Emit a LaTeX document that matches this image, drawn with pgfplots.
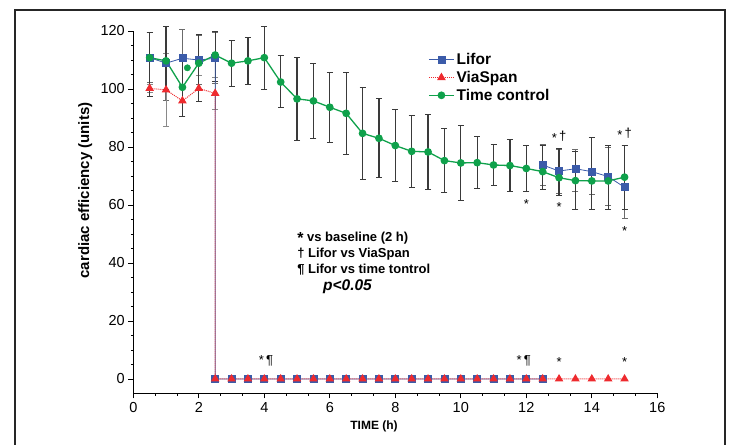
\documentclass[border=0pt]{standalone}
\usepackage{fontspec}
\setmainfont{Liberation Sans}
\usepackage{pgfplots}
\pgfplotsset{compat=1.18}
\usetikzlibrary{calc}

\definecolor{liforblue}{HTML}{3B5BA9}
\definecolor{viared}{HTML}{EE2A2E}
\definecolor{tcgreen}{HTML}{0FA14B}
\definecolor{ebar}{HTML}{3A3A3A}

\begin{document}
\begin{tikzpicture}
\begin{axis}[
    scale only axis,
    width=524pt, height=362.5pt,
    xmin=0, xmax=16, ymin=-5, ymax=120,
    axis x line*=bottom, axis y line*=left,
    axis line style={line width=1pt, black},
    xtick={0,2,...,16}, ytick={0,20,...,120},
    minor x tick num=2, minor y tick num=3,
    tick align=outside,
    major tick length=5pt, minor tick length=2.5pt,
    tick style={black, line width=0.8pt},
    /pgf/number format/assume math mode=true,
    tick label style={font=\fontsize{14.5}{16}\selectfont},
    clip=false,
    legend style={at={(axis cs:9.0,113)}, anchor=north west, draw=none, fill=none,
        font=\bfseries\fontsize{15.5}{18}\selectfont, inner sep=0pt, row sep=1pt},
    legend cell align=left,
    legend image code/.code={\draw[mark repeat=2,mark phase=2] plot coordinates {(0cm,0cm) (0.44cm,0cm) (0.88cm,0cm)};},
]
% error bars, drawn first so the markers sit on top
\addplot[forget plot, only marks, mark=none, ebar!75,
    error bars/.cd, y dir=both, y explicit,
    error bar style={line width=1.2pt},
    error mark options={rotate=90, mark size=3pt, line width=0.9pt}]
coordinates {
(0.5,110.8) +- (0,8.7) (1.0,108.9) +- (0,12.8) (1.5,110.6) +- (0,10) (2.0,110.0) +- (0,8.5) (2.5,110.6) +- (0,8.8)
(12.5,73.8) +- (0,7) (13.0,71.7) +- (0,7.6) (13.5,72.5) += (0,6.8) -= (0,8) (14.0,71.5) += (0,11.8) -= (0,8)
(14.5,69.8) +- (0,10) (15.0,66.1) += (0,14.6) -= (0,10.7)
};
\addplot[forget plot, only marks, mark=none, ebar!60,
    error bars/.cd, y dir=both, y explicit,
    error bar style={line width=1pt},
    error mark options={rotate=90, mark size=3pt, line width=0.9pt}]
coordinates {
(0.5,100.2) +- (0,1.5) (1.0,99.7) +- (0,12.5) (1.5,95.9) +- (0,5.5) (2.0,100.2) +- (0,4.5) (2.5,98.5) +- (0,5.5)
};
\addplot[forget plot, only marks, mark=none, ebar,
    error bars/.cd, y dir=both, y explicit,
    error bar style={line width=1.2pt},
    error mark options={rotate=90, mark size=3pt, line width=0.9pt}]
coordinates {
(0.5,110.8) += (0,8.7) -= (0,13.2) (1.0,109.7) += (0,12) -= (0,10) (1.5,100.6) += (0,10) -= (0,10.2)
(2.0,108.9) += (0,9.9) -= (0,13.3) (2.5,111.7) += (0,8) -= (0,9) (3.0,108.9) +- (0,8)
(3.5,109.7) +- (0,8) (4.0,110.8) += (0,10.9) -= (0,11.1) (4.5,102.4) += (0,9.3) -= (0,8.7)
(5.0,96.6) +- (0,14.2) (5.5,95.9) +- (0,13) (6.0,93.7) +- (0,12) (6.5,91.6) +- (0,14)
(7.0,84.7) +- (0,16) (7.5,83.0) +- (0,13.6) (8.0,80.5) +- (0,12.5) (8.5,78.5) +- (0,12.5)
(9.0,78.3) +- (0,13) (9.5,75.3) +- (0,11) (10.0,74.5) +- (0,13) (10.5,74.6) +- (0,9)
(11.0,73.8) +- (0,7) (11.5,73.6) +- (0,9.1) (12.0,72.6) +- (0,8.1) (12.5,71.5) += (0,9.2) -= (0,6.1)
(13.0,69.4) += (0,10) -= (0,6.2) (13.5,68.4) +- (0,10) (14.0,68.3) += (0,15) -= (0,9.8)
(14.5,68.3) += (0,12.4) -= (0,9.8) (15.0,69.6) +- (0,11)
};

% Lifor
\addplot[liforblue, line width=0.8pt, mark=square*, mark size=3.5pt] coordinates {
(0.5,110.8) (1.0,108.9) (1.5,110.6) (2.0,110.0) (2.5,110.6)
(2.5,0) (3.0,0) (3.5,0) (4.0,0) (4.5,0) (5.0,0) (5.5,0) (6.0,0) (6.5,0) (7.0,0) (7.5,0)
(8.0,0) (8.5,0) (9.0,0) (9.5,0) (10.0,0) (10.5,0) (11.0,0) (11.5,0) (12.0,0) (12.5,0)
};
\addlegendentry{Lifor}
% ViaSpan
\addplot[viared, line width=1pt, densely dotted, mark=triangle*, mark size=4pt, mark options={solid}] coordinates {
(0.5,100.2) (1.0,99.7) (1.5,95.9) (2.0,100.2) (2.5,98.5)
(2.5,0) (3.0,0) (3.5,0) (4.0,0) (4.5,0) (5.0,0) (5.5,0) (6.0,0) (6.5,0) (7.0,0) (7.5,0)
(8.0,0) (8.5,0) (9.0,0) (9.5,0) (10.0,0) (10.5,0) (11.0,0) (11.5,0) (12.0,0) (12.5,0)
(13.0,0) (13.5,0) (14.0,0) (14.5,0) (15.0,0)
};
\addlegendentry{ViaSpan}
% Lifor after reperfusion
\addplot[forget plot, liforblue, line width=0.8pt, mark=square*, mark size=3.5pt] coordinates {
(12.5,73.8) (13.0,71.7) (13.5,72.5) (14.0,71.5) (14.5,69.8) (15.0,66.1)
};
% Time control
\addplot[tcgreen, line width=1.3pt, mark=*, mark size=3.2pt] coordinates {
(0.5,110.8) (1.0,109.7) (1.5,100.6) (2.0,108.9) (2.5,111.7) (3.0,108.9) (3.5,109.7) (4.0,110.8)
(4.5,102.4) (5.0,96.6) (5.5,95.9) (6.0,93.7) (6.5,91.6) (7.0,84.7) (7.5,83.0) (8.0,80.5)
(8.5,78.5) (9.0,78.3) (9.5,75.3) (10.0,74.5) (10.5,74.6) (11.0,73.8) (11.5,73.6) (12.0,72.6)
(12.5,71.5) (13.0,69.4) (13.5,68.4) (14.0,68.3) (14.5,68.3) (15.0,69.6)
};
\addlegendentry{Time control}
\addplot[forget plot, only marks, tcgreen, mark=*, mark size=3.2pt] coordinates {(1.65,107.3)};

% significance marks
\node[font=\fontsize{13}{14}\selectfont] at (axis cs:13.0,83.5) {*\,\raisebox{2pt}{†}};
\node[font=\fontsize{13}{14}\selectfont] at (axis cs:15.0,84.5) {*\,\raisebox{2pt}{†}};
\node[font=\fontsize{13}{14}\selectfont] at (axis cs:12.0,60.2) {*};
\node[font=\fontsize{13}{14}\selectfont] at (axis cs:13.0,59.2) {*};
\node[font=\fontsize{13}{14}\selectfont] at (axis cs:15.0,51.0) {*};
\node[font=\fontsize{13}{14}\selectfont] at (axis cs:4.05,6.3) {*\,¶};
\node[font=\fontsize{13}{14}\selectfont] at (axis cs:11.92,6.3) {*\,¶};
\node[font=\fontsize{13}{14}\selectfont] at (axis cs:13.0,5.8) {*};
\node[font=\fontsize{13}{14}\selectfont] at (axis cs:15.0,5.8) {*};

% key to the symbols
\node[anchor=west, inner sep=0pt, font=\bfseries\fontsize{13}{14}\selectfont] at (axis cs:5.0,48.5) {{\fontsize{16}{16}\selectfont\raisebox{-1pt}{*}} vs baseline (2 h)};
\node[anchor=west, inner sep=0pt, font=\bfseries\fontsize{13}{14}\selectfont] at (axis cs:5.0,43.0) {† Lifor vs ViaSpan};
\node[anchor=west, inner sep=0pt, font=\bfseries\fontsize{13}{14}\selectfont] at (axis cs:5.0,37.6) {¶ Lifor vs time tontrol};
\node[anchor=west, inner sep=0pt, font=\bfseries\itshape\fontsize{15.5}{16}\selectfont] at (axis cs:5.79,31.8) {p<0.05};

% axis titles
\node[rotate=90, font=\bfseries\fontsize{15}{16}\selectfont] at ($(current axis.south west)+(-48pt,203pt)$) {cardiac efficiency (units)};
\node[font=\bfseries\fontsize{12}{13}\selectfont] at (axis cs:7.35,-16.5) {TIME (h)};
\end{axis}
\draw[line width=1.2pt, black!85]
    ($(current axis.south west)+(-118.3pt,-51.5pt)$) -- ($(current axis.north west)+(-118.3pt,21pt)$)
    -- ($(current axis.north east)+(67.7pt,21pt)$) -- ($(current axis.south east)+(67.7pt,-51.5pt)$);
\path[use as bounding box] ($(current axis.south west)+(-133.3pt,-51.5pt)$) rectangle ($(current axis.north east)+(74.7pt,31pt)$);
\end{tikzpicture}
\end{document}
